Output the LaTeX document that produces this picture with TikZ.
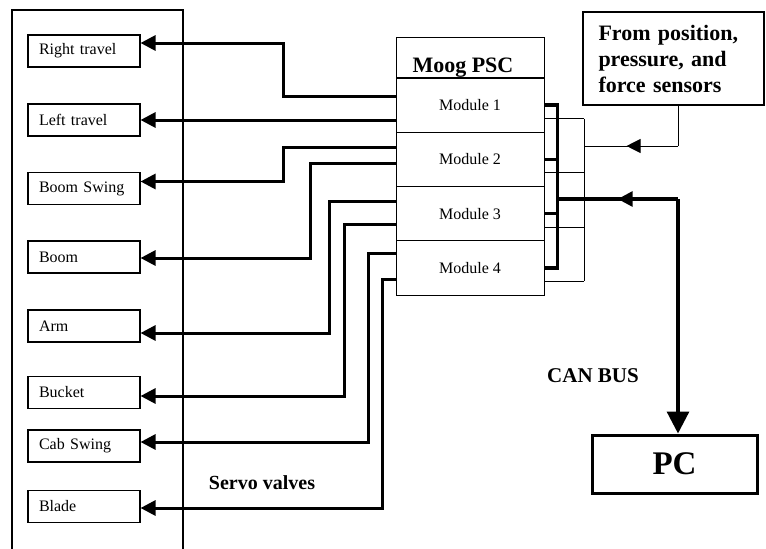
\documentclass[tikz,border=0pt]{standalone}
\usepackage{fontspec}
\setmainfont{Liberation Serif}
\usetikzlibrary{arrows.meta,calc,decorations.markings}

\begin{document}
\begin{tikzpicture}[x=1pt,y=-1pt,every node/.style={font=\fontsize{16}{19}\selectfont},
    valve/.style={draw,line width=1.1pt,minimum width=112pt,minimum height=32pt,text width=90pt,inner xsep=11pt,align=left},
    cell/.style={draw,line width=.9pt,minimum width=148pt,minimum height=54.3pt,inner sep=0pt},
    wire/.style={line width=3pt,-{Triangle[length=15pt,width=15pt]}},
    bus/.style={line width=3.2pt},
    sense/.style={line width=1pt},
    midtip/.style 2 args={postaction={decorate},decoration={markings,mark=at position #1 with {\arrow{Triangle[length=#2,width=#2]}}}},
    bigbold/.style={font=\fontsize{22}{26}\selectfont\bfseries}]
        \useasboundingbox (0,0) rectangle (766,549);
        \draw[line width=2.5pt] (12,549) |- (183,10) -- (183,549);
        \node[valve] (rt) at (84,51) {Right travel};
        \node[valve] (lt) at (84,120) {Left travel};
        \node[valve] (bs) at (84,188.5) {Boom Swing};
        \node[valve] (boom) at (84,257) {Boom};
        \node[valve] (arm) at (84,326) {Arm};
        \node[valve] (bucket) at (84,392.5) {Bucket};
        \node[valve] (cab) at (84,446) {Cab Swing};
        \node[valve] (blade) at (84,506.5) {Blade};
        \node[font=\fontsize{20}{20}\selectfont\bfseries] (servo) at (262,483) {Servo valves};
        \node[cell,minimum height=41pt] (title) at (470,57.5) {};
        \node[bigbold,anchor=base west] (psc) at (409,72) {Moog PSC};
        \node[cell] (m1) at (470,105) {Module 1};
        \node[cell] (m2) at (470,159.3) {Module 2};
        \node[cell] (m3) at (470,213.6) {Module 3};
        \node[cell] (m4) at (470,267.9) {Module 4};
        \node[draw,line width=1.3pt,minimum width=181pt,minimum height=93pt,text width=150pt,align=left,bigbold] (sens) at (673.5,58.5) {From position,\\pressure, and\\force sensors};
        \node[draw,line width=3pt,minimum width=165pt,minimum height=58pt,font=\fontsize{33}{33}\selectfont\bfseries] (pc) at (674.5,464) {PC};
        \node[font=\fontsize{21}{21}\selectfont\bfseries] (can) at (593,376) {CAN BUS};
        \draw[wire] ([yshift=9pt]m1.west) -- ++(-112,0) |- ([yshift=8pt]rt.east);
        \draw[wire] (m1.west |- lt.east) -- (lt.east);
        \draw[wire] ([yshift=12pt]m2.west) -- ++(-112,0) |- ([yshift=7pt]bs.east);
        \draw[wire] ([yshift=-4pt]m2.west) -- ++(-85,0) |- ([yshift=-1pt]boom.east);
        \draw[wire] ([yshift=12.5pt]m3.west) -- ++(-66,0) |- ([yshift=-7pt]arm.east);
        \draw[wire] ([yshift=-10.5pt]m3.west) -- ++(-51,0) |- ([yshift=-3.5pt]bucket.east);
        \draw[wire] ([yshift=14pt]m4.west) -- ++(-27,0) |- ([yshift=4pt]cab.east);
        \draw[wire] ([yshift=-12pt]m4.west) -- ++(-13,0) |- ([yshift=-1.5pt]blade.east);
        \coordinate (bt) at ([xshift=13pt]m1.east);
        \coordinate (bb) at ([xshift=13pt]m4.east);
        \draw[bus] (m1.east) -- (bt) -- (bb) -- (m4.east);
        \draw[bus] (m2.east) -- (m2.east -| bt);
        \draw[bus] (m3.east) -- (m3.east -| bt);
        \foreach \m in {m1,m2,m3,m4}
            \draw[sense] ([yshift=-13.5pt]\m.east) -- ++(40,0);
        \draw[sense] ([xshift=40pt,yshift=-13.5pt]m1.east) coordinate (st) -- ([xshift=40pt,yshift=-13.5pt]m4.east) coordinate (sb);
        \coordinate (sj) at (678,146);
        \draw[sense] (sens.south -| sj) -- (sj);
        \draw[sense,midtip={.55}{14pt}] (sj) -- (sj -| st);
        \coordinate (cj) at (678,199);
        \draw[bus,midtip={.5}{15pt}] (cj) -- (cj -| bt);
        \draw[bus,-{Triangle[length=22pt,width=22pt]}] (cj) -- (cj |- pc.north);
      \end{tikzpicture}
\end{document}
